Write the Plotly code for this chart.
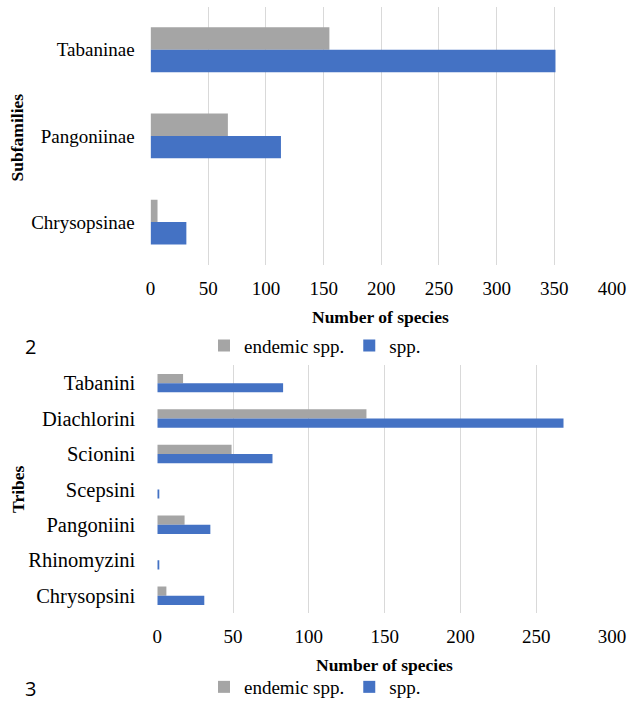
import plotly.graph_objects as go

# Subfamilies (top panel), listed top to bottom
subfamilies = ["Tabaninae", "Pangoniinae", "Chrysopsinae"]
sub_endemic = [155, 67, 6]
sub_spp = [351, 113, 31]

# Tribes (bottom panel), listed top to bottom
tribes = ["Tabanini", "Diachlorini", "Scionini", "Scepsini",
          "Pangoniini", "Rhinomyzini", "Chrysopsini"]
tribe_endemic = [17, 138, 49, 0, 18, 0, 6]
tribe_spp = [83, 268, 76, 1, 35, 1, 31]

GREY = "#A5A5A5"
BLUE = "#4472C4"
SERIF = "Liberation Serif, Times New Roman, serif"
SANS = "Open Sans, Noto Sans, sans-serif"
W, H = 627, 706

fig = go.Figure()

fig.add_trace(go.Bar(y=subfamilies, x=sub_endemic, orientation="h", name="endemic spp.",
                     marker=dict(color=GREY, line=dict(width=0)),
                     xaxis="x", yaxis="y", legend="legend"))
fig.add_trace(go.Bar(y=subfamilies, x=sub_spp, orientation="h", name="spp.",
                     marker=dict(color=BLUE, line=dict(width=0)),
                     xaxis="x", yaxis="y", legend="legend"))
fig.add_trace(go.Bar(y=tribes, x=tribe_endemic, orientation="h", name="endemic spp.",
                     marker=dict(color=GREY, line=dict(width=0)),
                     xaxis="x2", yaxis="y2", legend="legend2"))
fig.add_trace(go.Bar(y=tribes, x=tribe_spp, orientation="h", name="spp.",
                     marker=dict(color=BLUE, line=dict(width=0)),
                     xaxis="x2", yaxis="y2", legend="legend2"))


def px_x(p):
    return p / W


def px_y(p):
    return (H - p) / H


tick_font = dict(family=SERIF, size=19, color="#000")
grid = dict(showgrid=True, gridcolor="#D9D9D9", gridwidth=1, zeroline=False,
            showline=False, ticks="", automargin=False, tickfont=tick_font,
            ticklabelstandoff=10)
legend_font = dict(family=SERIF, size=19, color="#000")

fig.update_layout(
    width=W, height=H,
    margin=dict(l=0, r=0, t=0, b=0),
    paper_bgcolor="white", plot_bgcolor="white",
    font=dict(family=SERIF, color="#000"),
    barmode="group", bargap=0.48, bargroupgap=0,
    xaxis=dict(domain=[px_x(150.6), px_x(612)], range=[0, 400], dtick=50,
               anchor="y", **grid),
    yaxis=dict(domain=[px_y(266.3), px_y(6.7)], autorange="reversed",
               type="category", anchor="x", showgrid=False, zeroline=False,
               showline=False, ticks="", automargin=False, tickfont=tick_font,
               ticklabelstandoff=15),
    xaxis2=dict(domain=[px_x(157.3), px_x(612)], range=[0, 300], dtick=50,
                anchor="y2", **grid),
    yaxis2=dict(domain=[px_y(616), px_y(367)], autorange="reversed",
                type="category", anchor="x2", showgrid=False, zeroline=False,
                showline=False, ticks="", automargin=False,
                tickfont=dict(family=SERIF, size=20.5, color="#000"),
                ticklabelstandoff=21),
    legend=dict(orientation="h", x=px_x(315), xanchor="center", y=px_y(347), yanchor="middle",
                font=legend_font, bgcolor="rgba(0,0,0,0)",
                itemwidth=30, traceorder="normal"),
    legend2=dict(orientation="h", x=px_x(315), xanchor="center", y=px_y(690), yanchor="middle",
                 font=legend_font, bgcolor="rgba(0,0,0,0)",
                 itemwidth=30, traceorder="normal"),
    showlegend=True,
)

title_font = dict(family=SERIF, size=17.5, color="#000")
annotations = [
    dict(text="<b>Number of species</b>", x=px_x(380), y=px_y(318), xref="paper", yref="paper",
         showarrow=False, font=title_font, xanchor="center", yanchor="middle"),
    dict(text="<b>Number of species</b>", x=px_x(384), y=px_y(668), xref="paper", yref="paper",
         showarrow=False, font=title_font, xanchor="center", yanchor="middle"),
    dict(text="<b>Subfamilies</b>", x=px_x(17), y=px_y(138), xref="paper", yref="paper",
         showarrow=False, font=title_font, textangle=-90, xanchor="center", yanchor="middle"),
    dict(text="<b>Tribes</b>", x=px_x(18), y=px_y(491), xref="paper", yref="paper",
         showarrow=False, font=title_font, textangle=-90, xanchor="center", yanchor="middle"),
    dict(text="2", x=px_x(31), y=px_y(348), xref="paper", yref="paper",
         showarrow=False, font=dict(family=SANS, size=20, color="#000"),
         xanchor="center", yanchor="middle"),
    dict(text="3", x=px_x(30), y=px_y(691), xref="paper", yref="paper",
         showarrow=False, font=dict(family=SANS, size=20, color="#000"),
         xanchor="center", yanchor="middle"),
]
fig.update_layout(annotations=annotations)

fig.write_html("out.html")
